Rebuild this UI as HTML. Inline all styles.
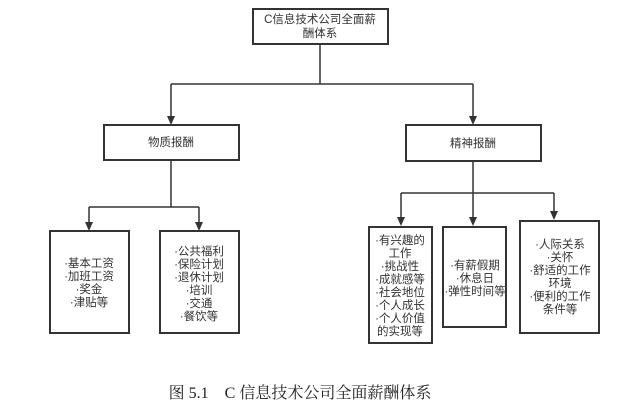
<!DOCTYPE html>
<html><head><meta charset="utf-8"><style>
html,body{margin:0;padding:0;background:#fff;width:640px;height:405px;overflow:hidden}
svg{display:block}
text{font-family:"Liberation Sans","Noto Sans CJK SC",sans-serif;font-size:11.5px;fill:#333;text-anchor:middle}
</style></head><body>
<svg width="640" height="405" viewBox="0 0 640 405">
<g stroke="#333" stroke-width="1.5" fill="none">
<path d="M320,44 V84 M171,84 H473"/>
<path d="M171,84 V117"/>
<path d="M473,84 V117"/>
<path d="M171,160 V207 M89,207 H199"/>
<path d="M89,207 V223"/>
<path d="M199,207 V223"/>
<path d="M473,161 V193 M401,193 H554"/>
<path d="M401,193 V218"/>
<path d="M473,193 V218"/>
<path d="M554,193 V212"/>
</g>
<g fill="#333">
<polygon points="167,116 175,116 171,125"/>
<polygon points="469,116 477,116 473,125"/>
<polygon points="85,222 93,222 89,231"/>
<polygon points="195,222 203,222 199,231"/>
<polygon points="397,217 405,217 401,226"/>
<polygon points="469,217 477,217 473,226"/>
<polygon points="550,211 558,211 554,220"/>
</g>
<g stroke="#333" stroke-width="2" fill="#fff">
<rect x="253" y="9" width="135" height="35"/>
<rect x="104" y="125" width="135" height="35"/>
<rect x="406" y="125" width="135" height="36"/>
<rect x="50" y="231" width="79" height="102"/>
<rect x="160" y="231" width="79" height="102"/>
<rect x="369" y="227" width="63" height="116"/>
<rect x="443" y="227" width="63" height="100"/>
<rect x="520" y="221" width="79" height="112"/>
</g>
<text x="320" y="23">C信息技术公司全面薪</text>
<text x="320" y="37">酬体系</text>
<text x="171" y="146">物质报酬</text>
<text x="473" y="147">精神报酬</text>
<text x="89" y="267">·基本工资</text>
<text x="89" y="280">·加班工资</text>
<text x="89" y="293">·奖金</text>
<text x="89" y="306">·津贴等</text>
<text x="199" y="255">·公共福利</text>
<text x="199" y="268">·保险计划</text>
<text x="199" y="281">·退休计划</text>
<text x="199" y="294">·培训</text>
<text x="199" y="307">·交通</text>
<text x="199" y="320">·餐饮等</text>
<text x="400" y="244">·有兴趣的</text>
<text x="400" y="257">工作</text>
<text x="400" y="270">·挑战性</text>
<text x="400" y="283">·成就感等</text>
<text x="400" y="296">·社会地位</text>
<text x="400" y="309">·个人成长</text>
<text x="400" y="322">·个人价值</text>
<text x="400" y="335">的实现等</text>
<text x="475" y="269">·有薪假期</text>
<text x="475" y="282">·休息日</text>
<text x="475" y="295">·弹性时间等</text>
<text x="560" y="248">·人际关系</text>
<text x="560" y="261">·关怀</text>
<text x="560" y="274">·舒适的工作</text>
<text x="560" y="287">环境</text>
<text x="560" y="300">·便利的工作</text>
<text x="560" y="313">条件等</text>
<text x="300" y="398" style="font-family:'Liberation Serif','Noto Serif CJK SC',serif;font-size:16px;fill:#222">图 5.1　C 信息技术公司全面薪酬体系</text>
</svg>
</body></html>
